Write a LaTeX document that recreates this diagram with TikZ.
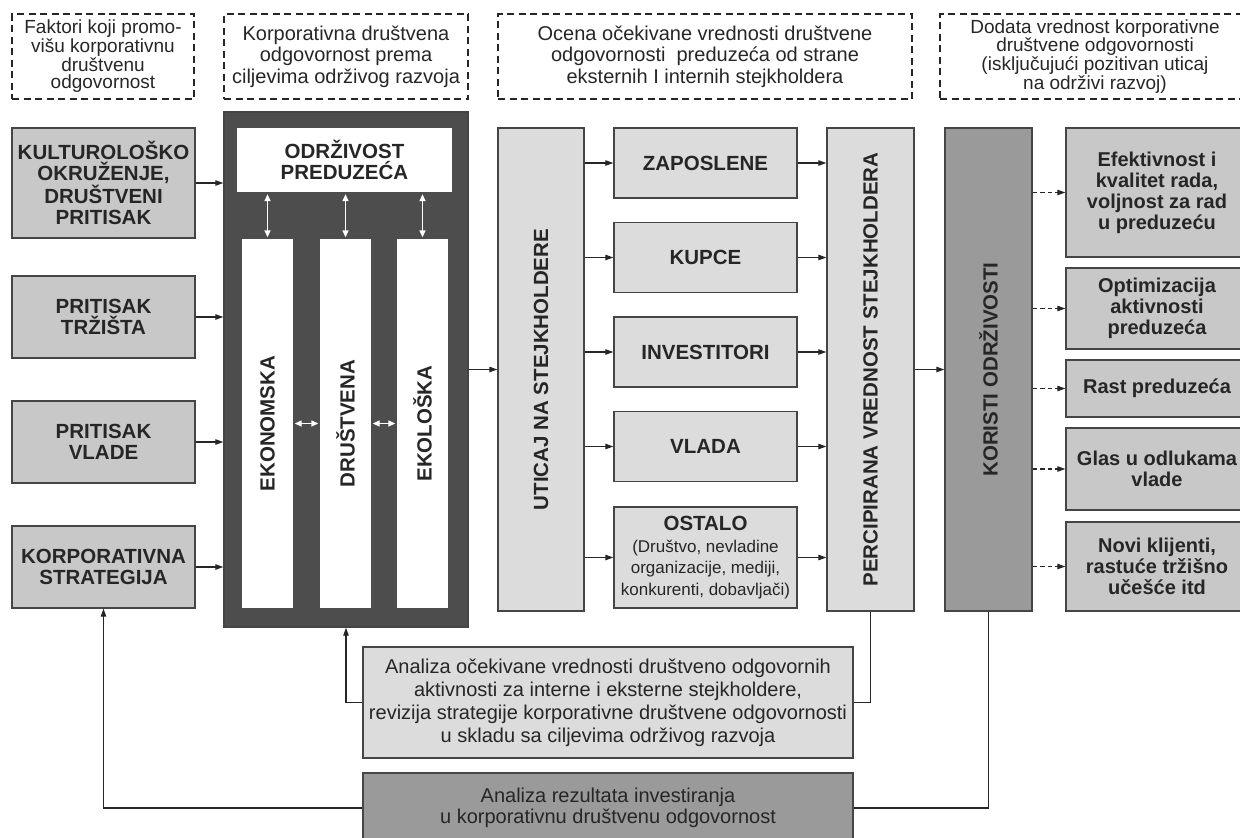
\documentclass[tikz,border=0pt]{standalone}
\usepackage{fontspec}
\setmainfont{Liberation Sans}
\usetikzlibrary{arrows.meta}
\definecolor{ink}{HTML}{262626}
\definecolor{edge}{HTML}{454545}
\definecolor{paleg}{HTML}{DCDCDC}
\definecolor{midg}{HTML}{C8C8C8}
\definecolor{deepg}{HTML}{9A9A9A}
\definecolor{coreg}{HTML}{4D4D4D}
\newcommand{\ostfont}{\fontsize{17}{18}\selectfont\mdseries}

\begin{document}
\begin{tikzpicture}[x=1pt,y=-1pt,
    font=\fontsize{20.5}{21.5}\selectfont\bfseries,text=ink,
    box/.style={draw=edge,line width=1.4pt,align=center,inner sep=2pt,anchor=center},
    head/.style={draw=ink,line width=1.1pt,dash pattern=on 7pt off 4.5pt,align=center,
                 inner sep=2pt,anchor=center,minimum height=85pt,
                 font=\fontsize{19}{17.5}\selectfont\mdseries},
    headwide/.style={head,font=\fontsize{20}{21.5}\selectfont\mdseries},
    factor/.style={box,fill=midg,minimum width=183pt},
    stake/.style={box,fill=paleg},
    gain/.style={box,fill=midg,minimum width=182pt,font=\fontsize{20}{21}\selectfont\bfseries},
    pillar/.style={fill=white,minimum width=51pt,minimum height=369pt,inner sep=0pt,anchor=center},
    vtext/.style={rotate=90,inner sep=0pt},
    flow/.style={draw=ink,line width=1.1pt,-{Triangle[length=8pt,width=5.5pt]}},
    dflow/.style={flow,dash pattern=on 4.5pt off 3pt},
    link/.style={draw=ink,line width=1.1pt},
    wflow/.style={draw=white,line width=1.4pt,shorten <=1.5pt,shorten >=1.5pt,
                  {Triangle[length=7pt,width=6pt]}-{Triangle[length=7pt,width=6pt]}}]
  \useasboundingbox (0,0) rectangle (1240,838);
  \node[head,minimum width=182pt] (h1) at (103,56.5) {Faktori koji promo-\\višu korporativnu\\društvenu\\odgovornost};
  \node[headwide,minimum width=244pt] (h2) at (346,56.5) {Korporativna društvena\\odgovornost prema\\ciljevima održivog razvoja};
  \node[headwide,minimum width=414pt] (h3) at (705,56.5) {Ocena očekivane vrednosti društvene\\odgovornosti\ \ preduzeća od strane\\eksternih I internih stejkholdera};
  \node[head,minimum width=310pt] (h4) at (1095,56.5) {Dodata vrednost korporativne\\društvene odgovornosti\\(isključujući pozitivan uticaj\\na održivi razvoj)};
  \node[factor,minimum height=110pt] (f1) at (103.5,183) {KULTUROLOŠKO\\OKRUŽENJE,\\DRUŠTVENI\\PRITISAK};
  \node[factor,minimum height=82pt] (f2) at (103.5,317) {PRITISAK\\TRŽIŠTA};
  \node[factor,minimum height=82pt] (f3) at (103.5,442) {PRITISAK\\VLADE};
  \node[factor,minimum height=82pt] (f4) at (103.5,567) {KORPORATIVNA\\STRATEGIJA};
  \node[box,fill=coreg,minimum width=244pt,minimum height=515pt] (csr) at (346,369.5) {};
  \node[box,fill=white,draw=none,minimum width=215pt,minimum height=64pt] (odr) at (344.5,160) {ODRŽIVOST\\PREDUZEĆA};
  \node[pillar] (eko) at (267.5,423.5) {};
  \node[pillar] (dru) at (345.5,423.5) {};
  \node[pillar] (ekl) at (422.5,423.5) {};
  \node[vtext] at (eko) {EKONOMSKA};
  \node[vtext] at (dru) {DRUŠTVENA};
  \node[vtext] at (ekl) {EKOLOŠKA};
  \draw[wflow] (eko.north) -- (eko.north |- odr.south);
  \draw[wflow] (dru.north) -- (dru.north |- odr.south);
  \draw[wflow] (ekl.north) -- (ekl.north |- odr.south);
  \draw[wflow] (eko.east) -- (dru.west);
  \draw[wflow] (dru.east) -- (ekl.west);
  \draw[flow] (f1.east) -- (f1.east -| csr.west);
  \draw[flow] (f2.east) -- (f2.east -| csr.west);
  \draw[flow] (f3.east) -- (f3.east -| csr.west);
  \draw[flow] (f4.east) -- (f4.east -| csr.west);
  \node[stake,minimum width=86pt,minimum height=483pt] (utic) at (541,369.5) {};
  \node[vtext] at (utic) {UTICAJ NA STEJKHOLDERE};
  \node[stake,minimum width=183pt,minimum height=70pt] (s1) at (705.5,163) {ZAPOSLENE};
  \node[stake,minimum width=183pt,minimum height=70pt] (s2) at (705.5,257.5) {KUPCE};
  \node[stake,minimum width=183pt,minimum height=70pt] (s3) at (705.5,352) {INVESTITORI};
  \node[stake,minimum width=183pt,minimum height=70pt] (s4) at (705.5,446.5) {VLADA};
  \node[stake,minimum width=183pt,minimum height=101pt] (s5) at (705.5,557.5) {OSTALO\\\ostfont (Društvo, nevladine\\\ostfont organizacije, mediji,\\\ostfont konkurenti, dobavljači)};
  \node[stake,minimum width=87pt,minimum height=483pt] (perc) at (870.5,369.5) {};
  \node[vtext] at (perc) {PERCIPIRANA VREDNOST STEJKHOLDERA};
  \node[box,fill=deepg,minimum width=87pt,minimum height=483pt] (kor) at (988.5,369.5) {};
  \node[vtext] at (kor) {KORISTI ODRŽIVOSTI};
  \draw[flow] (csr.east) -- (utic.west);
  \draw[flow] (s1.west -| utic.east) -- (s1.west);
  \draw[flow] (s2.west -| utic.east) -- (s2.west);
  \draw[flow] (s3.west -| utic.east) -- (s3.west);
  \draw[flow] (s4.west -| utic.east) -- (s4.west);
  \draw[flow] (s5.west -| utic.east) -- (s5.west);
  \draw[flow] (s1.east) -- (s1.east -| perc.west);
  \draw[flow] (s2.east) -- (s2.east -| perc.west);
  \draw[flow] (s3.east) -- (s3.east -| perc.west);
  \draw[flow] (s4.east) -- (s4.east -| perc.west);
  \draw[flow] (s5.east) -- (s5.east -| perc.west);
  \draw[flow] (perc.east) -- (kor.west);
  \node[gain,minimum height=129pt] (b1) at (1157,192.5) {Efektivnost i\\kvalitet rada,\\voljnost za rad\\u preduzeću};
  \node[gain,minimum height=81pt] (b2) at (1157,308.5) {Optimizacija\\aktivnosti\\preduzeća};
  \node[gain,minimum height=57pt] (b3) at (1157,388.5) {Rast preduzeća};
  \node[gain,minimum height=82pt] (b4) at (1157,469) {Glas u odlukama\\vlade};
  \node[gain,minimum height=89pt] (b5) at (1157,566.5) {Novi klijenti,\\rastuće tržišno\\učešće itd};
  \draw[dflow] (b1.west -| kor.east) -- (b1.west);
  \draw[dflow] (b2.west -| kor.east) -- (b2.west);
  \draw[dflow] (b3.west -| kor.east) -- (b3.west);
  \draw[dflow] (b4.west -| kor.east) -- (b4.west);
  \draw[dflow] (b5.west -| kor.east) -- (b5.west);
  \node[stake,font=\fontsize{20}{23}\selectfont\mdseries,minimum width=490pt,minimum height=111pt] (an1) at (608,702.5) {Analiza očekivane vrednosti društveno odgovornih\\aktivnosti za interne i eksterne stejkholdere,\\revizija strategije korporativne društvene odgovornosti\\u skladu sa ciljevima održivog razvoja};
  \node[box,fill=deepg,font=\fontsize{20}{21.5}\selectfont\mdseries,minimum width=490pt,minimum height=70pt] (an2) at (608,808) {Analiza rezultata investiranja\\u korporativnu društvenu odgovornost};
  \draw[link] (perc.south) |- (an1.east);
  \draw[flow] (an1.west) -| (csr.south);
  \draw[link] (kor.south) |- (an2.east);
  \draw[flow] (an2.west) -| (f4.south);
\end{tikzpicture}
\end{document}
